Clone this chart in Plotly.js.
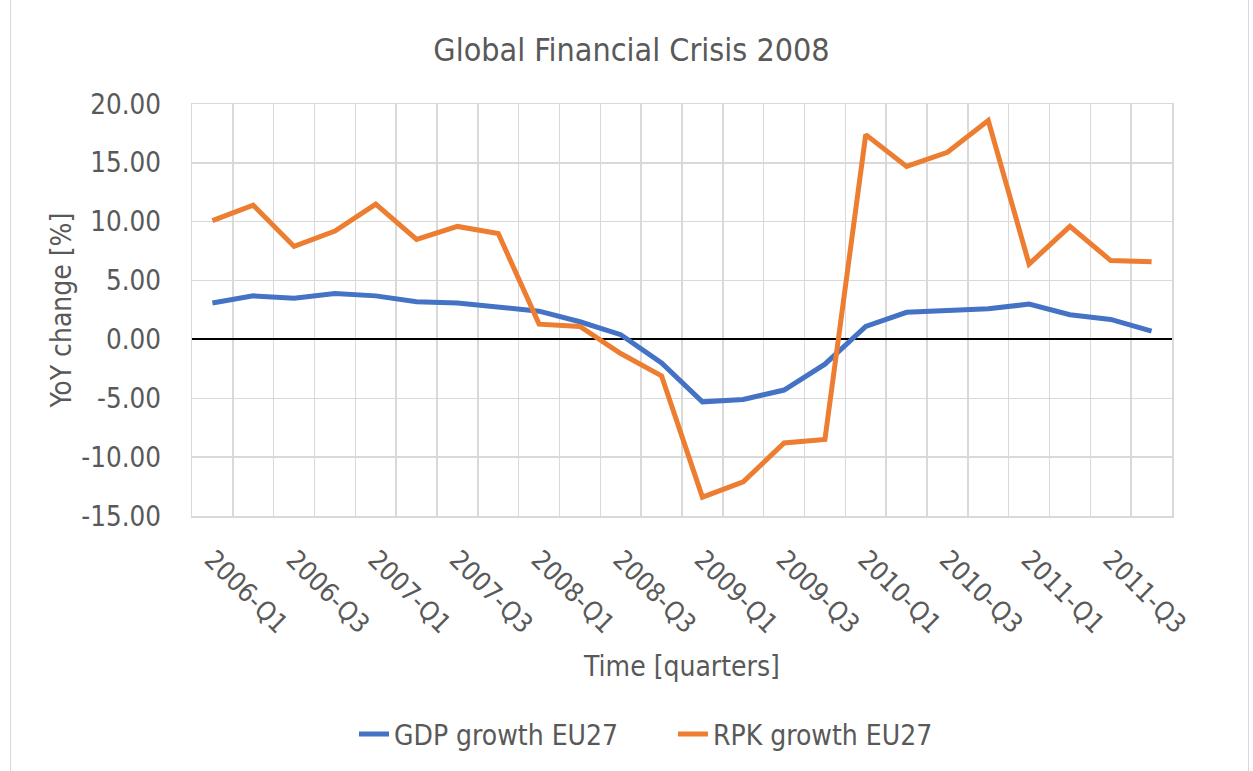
<!DOCTYPE html>
<html>
<head>
<meta charset="utf-8">
<script src="https://cdn.plot.ly/plotly-3.0.1.min.js"></script>
<style>
  html, body { margin: 0; padding: 0; background: #ffffff; }
  #frame { position: absolute; left: 10px; top: -2px; width: 1239px; height: 780px; border: 1px solid #d9d9d9; box-sizing: border-box; }
  #chart { position: absolute; left: 0; top: 0; width: 1253px; height: 771px; }
</style>
</head>
<body>
<div id="frame"></div>
<div id="chart"></div>
<script>
const quarters = [
  "2006-Q1","2006-Q2","2006-Q3","2006-Q4",
  "2007-Q1","2007-Q2","2007-Q3","2007-Q4",
  "2008-Q1","2008-Q2","2008-Q3","2008-Q4",
  "2009-Q1","2009-Q2","2009-Q3","2009-Q4",
  "2010-Q1","2010-Q2","2010-Q3","2010-Q4",
  "2011-Q1","2011-Q2","2011-Q3","2011-Q4"
];
const gdpGrowth = [3.1, 3.7, 3.5, 3.9, 3.7, 3.2, 3.1, 2.7, 2.4, 1.5, 0.4, -2.0,
                   -5.3, -5.1, -4.3, -2.1, 1.1, 2.3, 2.5, 2.6, 3.0, 2.1, 1.7, 0.7];
const rpkGrowth = [10.1, 11.4, 7.9, 9.2, 11.5, 8.5, 9.6, 9.0, 1.3, 1.1, -1.2, -3.1,
                   -13.4, -12.1, -8.8, -8.5, 17.4, 14.7, 15.9, 18.6, 6.4, 9.6, 6.7, 6.6];
const tickQuarters = ["2006-Q1","2006-Q3","2007-Q1","2007-Q3","2008-Q1","2008-Q3",
                      "2009-Q1","2009-Q3","2010-Q1","2010-Q3","2011-Q1","2011-Q3"];
const yTickValues = [-15, -10, -5, 0, 5, 10, 15, 20];
const yTickLabels = ["-15.00", "-10.00", "-5.00", "0.00", "5.00", "10.00", "15.00", "20.00"];

const xIdx = quarters.map((q, i) => i);
const tickIdx = tickQuarters.map(q => quarters.indexOf(q));
const FONT = '"DejaVu Sans Condensed", "DejaVu Sans", "Liberation Sans", sans-serif';
const TXT = '#595959';
const GRID = '#d9d9d9';

const traces = [
  { x: xIdx, y: gdpGrowth, name: 'GDP growth EU27', type: 'scatter', mode: 'lines',
    line: { color: '#4472C4', width: 5 } },
  { x: xIdx, y: rpkGrowth, name: 'RPK growth EU27', type: 'scatter', mode: 'lines',
    line: { color: '#ED7D31', width: 5 } }
];

const layout = {
  width: 1253, height: 771,
  paper_bgcolor: 'rgba(0,0,0,0)', plot_bgcolor: '#ffffff',
  margin: { l: 192, r: 81, t: 104, b: 251, pad: 0 },
  font: { family: FONT, color: TXT, size: 27 },
  title: { text: 'Global Financial Crisis 2008', x: 0.504, xanchor: 'center',
           y: 0.935, yanchor: 'middle', font: { size: 32, color: TXT, family: FONT } },
  showlegend: true,
  legend: { orientation: 'h', x: 0.1653, xanchor: 'left', y: -0.53, yanchor: 'middle',
            entrywidth: 274, entrywidthmode: 'pixels',
            font: { size: 28, color: TXT, family: FONT }, tracegroupgap: 0 },
  xaxis: {
    range: [-0.5, quarters.length - 0.5], fixedrange: true,
    tickmode: 'array', tickvals: tickIdx, ticktext: tickQuarters,
    tickangle: 45, showgrid: false, zeroline: false, ticks: '',
    tickfont: { size: 26.5, color: TXT, family: FONT },
    ticklabelstandoff: 16,
    showline: true, linecolor: GRID, linewidth: 1.5, mirror: true,
    minor: { tick0: -0.5, dtick: 1, showgrid: true, gridcolor: GRID, gridwidth: 1.5, ticks: '' },
    title: { text: 'Time [quarters]', font: { size: 28, color: TXT, family: FONT }, standoff: 18 },
    automargin: false
  },
  yaxis: {
    range: [-15, 20], fixedrange: true,
    tickmode: 'array', tickvals: yTickValues, ticktext: yTickLabels,
    showgrid: true, gridcolor: GRID, gridwidth: 1.5,
    zeroline: true, zerolinecolor: '#000000', zerolinewidth: 2,
    ticks: '', ticklabelstandoff: 24,
    tickfont: { size: 27.5, color: TXT, family: FONT },
    showline: true, linecolor: GRID, linewidth: 1.5, mirror: true,
    title: { text: 'YoY change [%]', font: { size: 28, color: TXT, family: FONT }, standoff: 1 },
    automargin: false
  }
};

Plotly.newPlot('chart', traces, layout, { displayModeBar: false, staticPlot: true });
</script>
</body>
</html>
